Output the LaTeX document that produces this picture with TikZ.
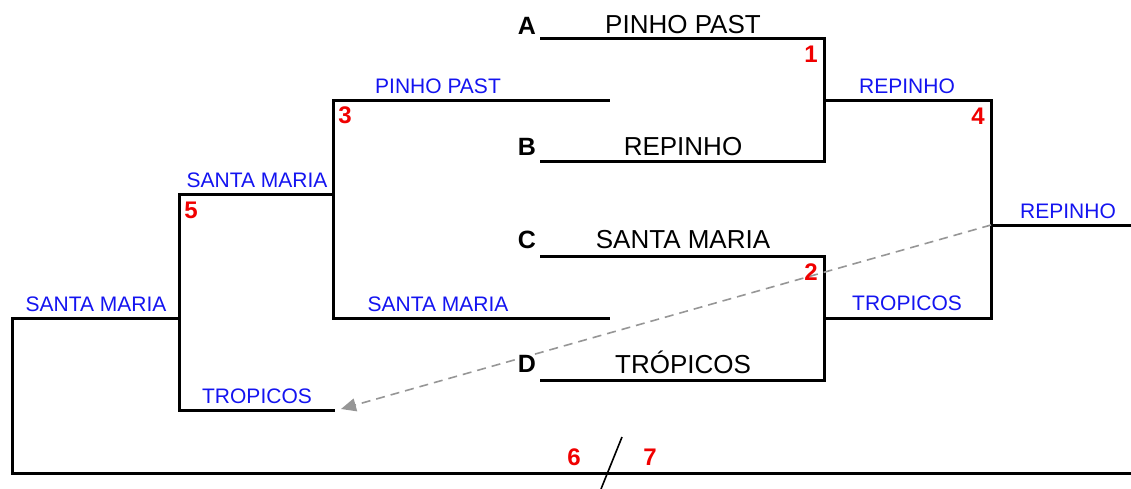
\documentclass[tikz,border=0pt]{standalone}
\usepackage{fontspec}
\setmainfont{Liberation Sans}
\usetikzlibrary{arrows.meta}
\definecolor{labblue}{RGB}{20,20,240}
\definecolor{numred}{RGB}{240,0,0}
\definecolor{dashgray}{RGB}{150,150,150}
\tikzset{
  br/.style={line width=3pt, line cap=rect, line join=miter},
  team/.style={inner sep=0pt, anchor=base, font=\fontsize{26}{28}\selectfont},
  seed/.style={inner sep=0pt, anchor=base, font=\fontsize{25}{27}\selectfont\bfseries},
  adv/.style={inner sep=0pt, anchor=base, text=labblue, font=\fontsize{21}{23}\selectfont},
  num/.style={inner sep=0pt, anchor=base, text=numred, font=\fontsize{24}{26}\selectfont\bfseries},
  link/.style={dashed, dash pattern=on 9pt off 6pt, line width=1.6pt, draw=dashgray, -{Triangle[length=15pt,width=13pt]}}
}
\begin{document}
\begin{tikzpicture}[x=1pt,y=-1pt]
\useasboundingbox (0,0) rectangle (1131,489);
% corners
\coordinate (a0) at (541,39);  \coordinate (a1) at (824,39);
\coordinate (b0) at (541,162); \coordinate (b1) at (824,162);
\coordinate (c0) at (541,256); \coordinate (c1) at (824,256);
\coordinate (d0) at (541,380); \coordinate (d1) at (824,380);
\coordinate (w1a) at (824,101); \coordinate (w1b) at (991,101);
\coordinate (w2a) at (824,318); \coordinate (w2b) at (991,318);
\coordinate (w4a) at (991,225); \coordinate (w4b) at (1131,225);
\coordinate (l1a) at (608,101); \coordinate (l1b) at (333,101);
\coordinate (l2a) at (608,318); \coordinate (l2b) at (333,318);
\coordinate (l3a) at (333,194); \coordinate (l3b) at (179,194);
\coordinate (l4a) at (333,410); \coordinate (l4b) at (179,410);
\coordinate (l5a) at (179,318); \coordinate (l5b) at (12,318);
\coordinate (f0) at (12,473); \coordinate (f1) at (1131,473);
\coordinate (s0) at (622,437); \coordinate (s1) at (601,489);
\coordinate (arrtip) at (341,409);
% brackets
\draw[br] (a0) -- (a1) -- (b1) -- (b0);
\draw[br] (c0) -- (c1) -- (d1) -- (d0);
\draw[br] (w1a) -- (w1b) -- (w2b) -- (w2a);
\draw[br] (w4a) -- (w4b);
\draw[br] (l1a) -- (l1b) -- (l2b) -- (l2a);
\draw[br] (l3a) -- (l3b) -- (l4b) -- (l4a);
\draw[br] (l5a) -- (l5b) -- (f0) -- (f1);
\draw[line width=1.6pt] (s0) -- (s1);
\draw[link] (w4a) -- (arrtip);
% team names
\node[team] (tA) at (683,34) {PINHO PAST};
\node[team] (tB) at (683,156) {REPINHO};
\node[team] (tC) at (683,248) {SANTA MARIA};
\node[team] (tD) at (683,373) {TRÓPICOS};
\node[seed] (sA) at (527,35) {A};
\node[seed] (sB) at (527,156) {B};
\node[seed] (sC) at (527,248) {C};
\node[seed] (sD) at (527,372) {D};
% advancing labels
\node[adv] (v1) at (907,94) {REPINHO};
\node[adv] (v2) at (907,310) {TROPICOS};
\node[adv] (v4) at (1068,218) {REPINHO};
\node[adv] (v3a) at (438,94) {PINHO PAST};
\node[adv] (v3b) at (438,311) {SANTA MARIA};
\node[adv] (v5a) at (257,187) {SANTA MARIA};
\node[adv] (v5b) at (257,403) {TROPICOS};
\node[adv] (v6) at (96,311) {SANTA MARIA};
% game numbers
\node[num] (n1) at (811,63) {1};
\node[num] (n2) at (811,280) {2};
\node[num] (n3) at (345,124) {3};
\node[num] (n4) at (978,125) {4};
\node[num] (n5) at (191,218) {5};
\node[num] (n6) at (574,465) {6};
\node[num] (n7) at (650,465) {7};
\end{tikzpicture}
\end{document}
